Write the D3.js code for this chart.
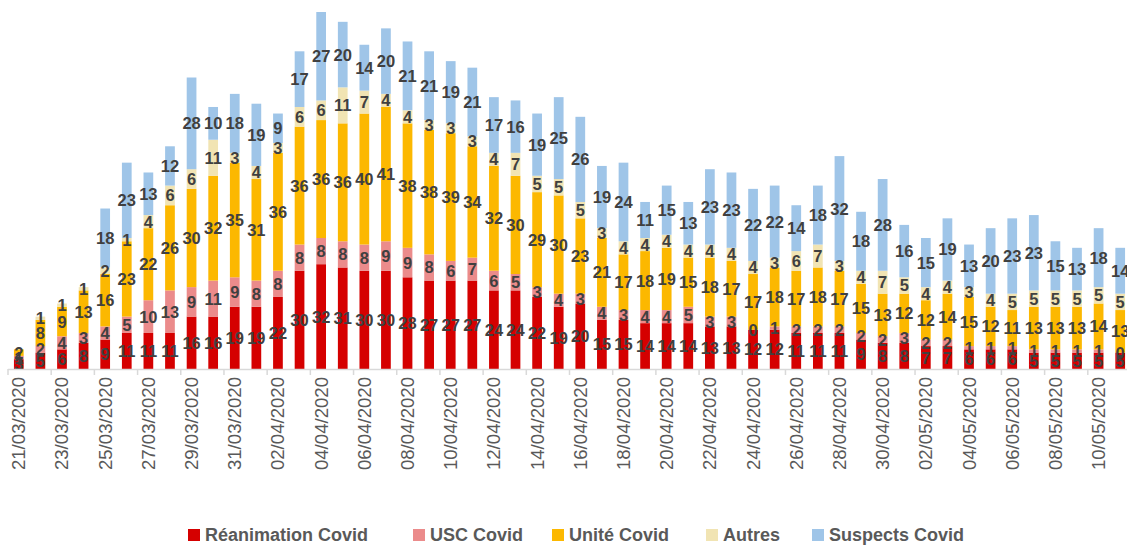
<!DOCTYPE html>
<html><head><meta charset="utf-8">
<script src="https://cdn.jsdelivr.net/npm/d3@7"></script>
<style>body{margin:0;background:#fff}svg{display:block}</style>
</head><body><svg id="c" width="1127" height="545"></svg>
<script>
const dates = ["21/03/2020","22/03/2020","23/03/2020","24/03/2020","25/03/2020","26/03/2020","27/03/2020","28/03/2020","29/03/2020","30/03/2020","31/03/2020",
"01/04/2020","02/04/2020","03/04/2020","04/04/2020","05/04/2020","06/04/2020","07/04/2020","08/04/2020","09/04/2020","10/04/2020",
"11/04/2020","12/04/2020","13/04/2020","14/04/2020","15/04/2020","16/04/2020","17/04/2020","18/04/2020","19/04/2020","20/04/2020",
"21/04/2020","22/04/2020","23/04/2020","24/04/2020","25/04/2020","26/04/2020","27/04/2020","28/04/2020","29/04/2020","30/04/2020",
"01/05/2020","02/05/2020","03/05/2020","04/05/2020","05/05/2020","06/05/2020","07/05/2020","08/05/2020","09/05/2020","10/05/2020","11/05/2020"];
const reanimation = [3,5,6,8,9,11,11,11,16,16,19,19,22,30,32,31,30,30,28,27,27,27,24,24,22,19,20,15,15,14,14,14,13,13,12,12,11,11,11,9,8,8,7,7,6,6,6,5,5,5,5,5];
const usc         = [1,2,4,3,4,5,10,13,9,11,9,8,8,8,8,8,8,9,9,8,6,7,6,5,3,4,3,4,3,4,4,5,3,3,0,1,2,2,2,2,2,3,2,2,1,1,1,1,1,1,1,0];
const unite       = [2,8,9,13,16,23,22,26,30,32,35,31,36,36,36,36,40,41,38,38,39,34,32,30,29,30,23,21,17,18,19,15,18,17,17,18,17,18,17,15,13,12,12,14,15,12,11,13,13,13,14,13];
const autres      = [0,1,1,1,2,1,4,6,6,11,3,4,3,6,6,11,7,4,4,3,3,3,4,7,5,5,5,3,4,4,4,4,4,4,4,3,6,7,3,4,7,5,4,4,3,4,5,5,5,5,5,5];
const suspects    = [0,0,0,0,18,23,13,12,28,10,18,19,9,17,27,20,14,20,21,21,19,21,17,16,19,25,26,19,24,11,15,13,23,23,22,22,14,18,32,18,28,16,15,19,13,20,23,23,15,13,18,14];
const seriesNames = ["Réanimation Covid","USC Covid","Unité Covid","Autres","Suspects Covid"];
const seriesColors = ["#d50000","#eb8b8b","#fcb800","#f1e4b3","#9fc5e8"];

const rows = dates.map((d,i)=>({date:d, "Réanimation Covid":reanimation[i], "USC Covid":usc[i], "Unité Covid":unite[i], "Autres":autres[i], "Suspects Covid":suspects[i]}));
const stack = d3.stack().keys(seriesNames)(rows);

const svg = d3.select("#c");
const baseY = 369;
const x = d3.scaleBand().domain(dates).range([8,1131]).paddingInner(0.55).paddingOuter(0.275);
const y = d3.scaleLinear().domain([0,109]).range([baseY,12]);
const color = d3.scaleOrdinal().domain(seriesNames).range(seriesColors);

const g = svg.append("g");
stack.forEach(layer=>{
  g.append("g").attr("fill", color(layer.key)).selectAll("rect").data(layer).join("rect")
    .attr("x", d=>x(d.data.date)).attr("width", x.bandwidth())
    .attr("y", d=>y(d[1])).attr("height", d=>y(d[0])-y(d[1]));
});
// axis line and ticks
svg.append("line").attr("x1",x.range()[0]).attr("x2",1127).attr("y1",baseY+0.5).attr("y2",baseY+0.5).attr("stroke","#d9d9d9").attr("stroke-width",1.5);
const step = x.step();
const tickXs = d3.range(0, dates.length+1, 2).map(i=> x.range()[0] + i*step);
svg.selectAll(".tk").data(tickXs).join("line").attr("x1",d=>d).attr("x2",d=>d).attr("y1",baseY).attr("y2",baseY+6).attr("stroke","#d9d9d9").attr("stroke-width",1.5);
// tick labels
svg.selectAll(".tl").data(dates.filter((d,i)=>i%2===0)).join("text")
  .attr("transform", d=>`translate(${x(d)+x.bandwidth()/2},${baseY+8}) rotate(-90)`)
  .attr("text-anchor","end").attr("dominant-baseline","central")
  .attr("font-family","Liberation Sans, Arial, sans-serif").attr("font-size",18.6).attr("fill","#595959")
  .text(d=>d);
// data labels
stack.forEach(layer=>{
  g.append("g").selectAll("text").data(layer.filter(d=> (d[1]-d[0])>0 || layer.key==="USC Covid")).join("text")
    .attr("x", d=>x(d.data.date)+x.bandwidth()/2)
    .attr("y", d=>(y(d[0])+y(d[1]))/2)
    .attr("text-anchor","middle").attr("dominant-baseline","central")
    .attr("font-family","Liberation Sans, Arial, sans-serif").attr("font-weight","bold").attr("font-size",16.5)
    .attr("fill","#404040")
    .text(d=>d[1]-d[0]);
});
// legend
const legX = [188,413,552,706,812];
const lg = svg.append("g");
seriesNames.forEach((n,i)=>{
  lg.append("rect").attr("x",legX[i]).attr("y",529).attr("width",12).attr("height",12).attr("fill",seriesColors[i]);
  lg.append("text").attr("x",legX[i]+17).attr("y",535).attr("dominant-baseline","central")
    .attr("font-family","Liberation Sans, Arial, sans-serif").attr("font-weight","bold").attr("font-size",18)
    .attr("fill","#595959").text(n);
});
</script></body></html>
